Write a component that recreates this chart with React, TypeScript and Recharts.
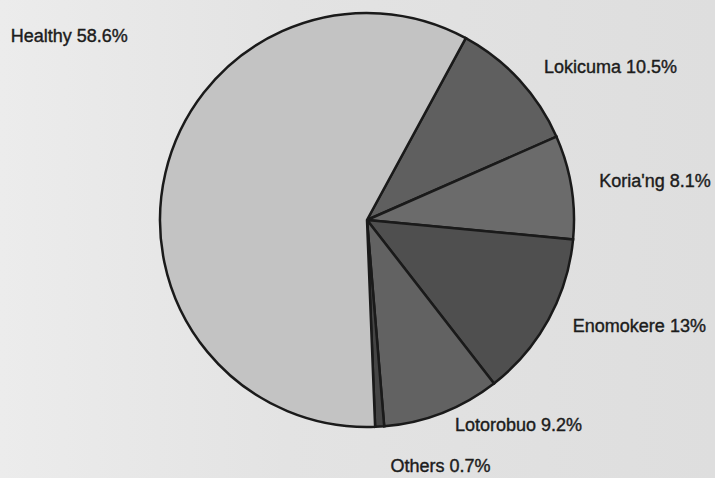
import React from 'react';
import { PieChart, Pie, Cell } from 'recharts';

const NAMES = ['Lokicuma', "Koria'ng", 'Enomokere', 'Lotorobuo', 'Others', 'Healthy'];
const SHARES = [10.5, 8.1, 13, 9.2, 0.7, 58.6];
const LABELS = ['Lokicuma 10.5%', "Koria'ng 8.1%", 'Enomokere 13%', 'Lotorobuo 9.2%', 'Others 0.7%', 'Healthy 58.6%'];

const FILLS = ['#5f5f5f', '#6b6b6b', '#4f4f4f', '#626262', '#454545', '#c3c3c3'];

// label nudges from a point just outside the rim (excel-ish placement)
const NUDGE: Record<string, [number, number]> = {
    'Lokicuma': [15, 2],
    "Koria'ng": [15, 2],
    'Enomokere': [13, 6],
    'Lotorobuo': [8, 6],
    'Others': [10, 32],
    'Healthy': [-142, -128]
};

const RADIAN = Math.PI / 180;

const data = NAMES.map((name, i) => ({ name, value: SHARES[i], label: LABELS[i] }));

const renderLabel = (props: any) => {
    const { cx, cy, midAngle, index } = props;
    const r = 220;
    const x = cx + r * Math.cos(-midAngle * RADIAN);
    const y = cy + r * Math.sin(-midAngle * RADIAN);
    const [dx, dy] = NUDGE[NAMES[index]] || [0, 0];
    return (
        <text
            x={x + dx}
            y={y + dy}
            textAnchor="start"
            fill="#1c1c1c"
            stroke="#1c1c1c"
            strokeWidth={0.4}
            fontSize={18}
            fontFamily="'Liberation Sans', Arial, sans-serif"
        >
            {LABELS[index]}
        </text>
    );
};

export default function App() {
    return (
        <div
            style={{
                position: 'absolute',
                left: 0,
                top: 0,
                width: 715,
                height: 478,
                background: 'linear-gradient(90deg, #ececec 0%, #e3e3e3 40%, #dedede 100%)',
                overflow: 'hidden'
            }}
        >
            <PieChart width={715} height={478} margin={{ top: 0, right: 0, bottom: 0, left: 0 }}>
                <Pie
                    data={data}
                    dataKey="value"
                    nameKey="name"
                    cx={367}
                    cy={220}
                    outerRadius={207}
                    startAngle={61.5}
                    endAngle={-298.5}
                    stroke="#1a1a1a"
                    strokeWidth={2.5}
                    label={renderLabel}
                    labelLine={false}
                    isAnimationActive={false}
                >
                    {data.map((d, i) => (
                        <Cell key={d.name} fill={FILLS[i]} />
                    ))}
                </Pie>
            </PieChart>
        </div>
    );
}
